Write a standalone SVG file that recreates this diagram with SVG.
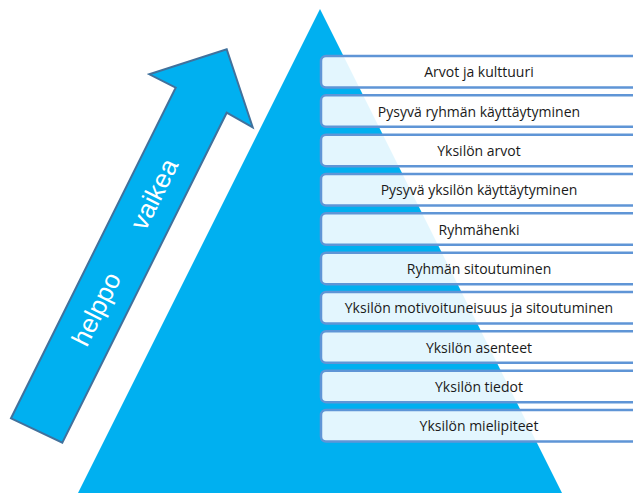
<svg xmlns="http://www.w3.org/2000/svg" width="633" height="493" viewBox="0 0 633 493">
  <style>
    .level rect { fill: #ffffff; fill-opacity: 0.89; stroke: #5f95d6; stroke-width: 2.5; }
    .level text { font-family: "Open Sans", "Liberation Sans", sans-serif; font-size: 14px; fill: #1a1a1a; text-anchor: middle; }
    .arrow-label { font-family: "Liberation Sans", Arial, sans-serif; font-size: 26px; fill: #ffffff; text-anchor: middle; }
  </style>

  <!-- background pyramid -->
  <g id="pyramid">
    <polygon points="320,9 562,493 78,493" fill="#00b0f0"/>
  </g>

  <!-- difficulty arrow -->
  <g id="difficulty-arrow">
    <polygon points="11,418.3 175.7,87.7 149.3,74.3 226.7,49.3 252.7,127.3 226.7,112.7 62.3,442.7"
             fill="#00b0f0" stroke="#41719c" stroke-width="2" stroke-linejoin="miter"/>
    <text class="arrow-label" x="104.2" y="313" transform="rotate(-63.5 104.2 313)">helppo</text>
    <text class="arrow-label" x="162.1" y="198" transform="rotate(-63.5 162.1 198)">vaikea</text>
  </g>

  <!-- pyramid levels, top to bottom -->
  <g id="level-1" class="level"><rect x="321" y="56" width="330" height="31.5" rx="5"/><text x="479" y="77.3">Arvot ja kulttuuri</text></g>
  <g id="level-2" class="level"><rect x="321" y="95.3" width="330" height="31.5" rx="5"/><text x="479" y="116.6">Pysyvä ryhmän käyttäytyminen</text></g>
  <g id="level-3" class="level"><rect x="321" y="134.7" width="330" height="31.5" rx="5"/><text x="479" y="156">Yksilön arvot</text></g>
  <g id="level-4" class="level"><rect x="321" y="174" width="330" height="31.5" rx="5"/><text x="479" y="195.3">Pysyvä yksilön käyttäytyminen</text></g>
  <g id="level-5" class="level"><rect x="321" y="213.3" width="330" height="31.5" rx="5"/><text x="479" y="234.6">Ryhmähenki</text></g>
  <g id="level-6" class="level"><rect x="321" y="252.7" width="330" height="31.5" rx="5"/><text x="479" y="274">Ryhmän sitoutuminen</text></g>
  <g id="level-7" class="level"><rect x="321" y="292" width="330" height="31.5" rx="5"/><text x="479" y="313.3">Yksilön motivoituneisuus ja sitoutuminen</text></g>
  <g id="level-8" class="level"><rect x="321" y="331.3" width="330" height="31.5" rx="5"/><text x="479" y="352.6">Yksilön asenteet</text></g>
  <g id="level-9" class="level"><rect x="321" y="370.7" width="330" height="31.5" rx="5"/><text x="479" y="392">Yksilön tiedot</text></g>
  <g id="level-10" class="level"><rect x="321" y="410" width="330" height="31.5" rx="5"/><text x="479" y="431.3">Yksilön mielipiteet</text></g>

  <g id="connectors"/>
</svg>
